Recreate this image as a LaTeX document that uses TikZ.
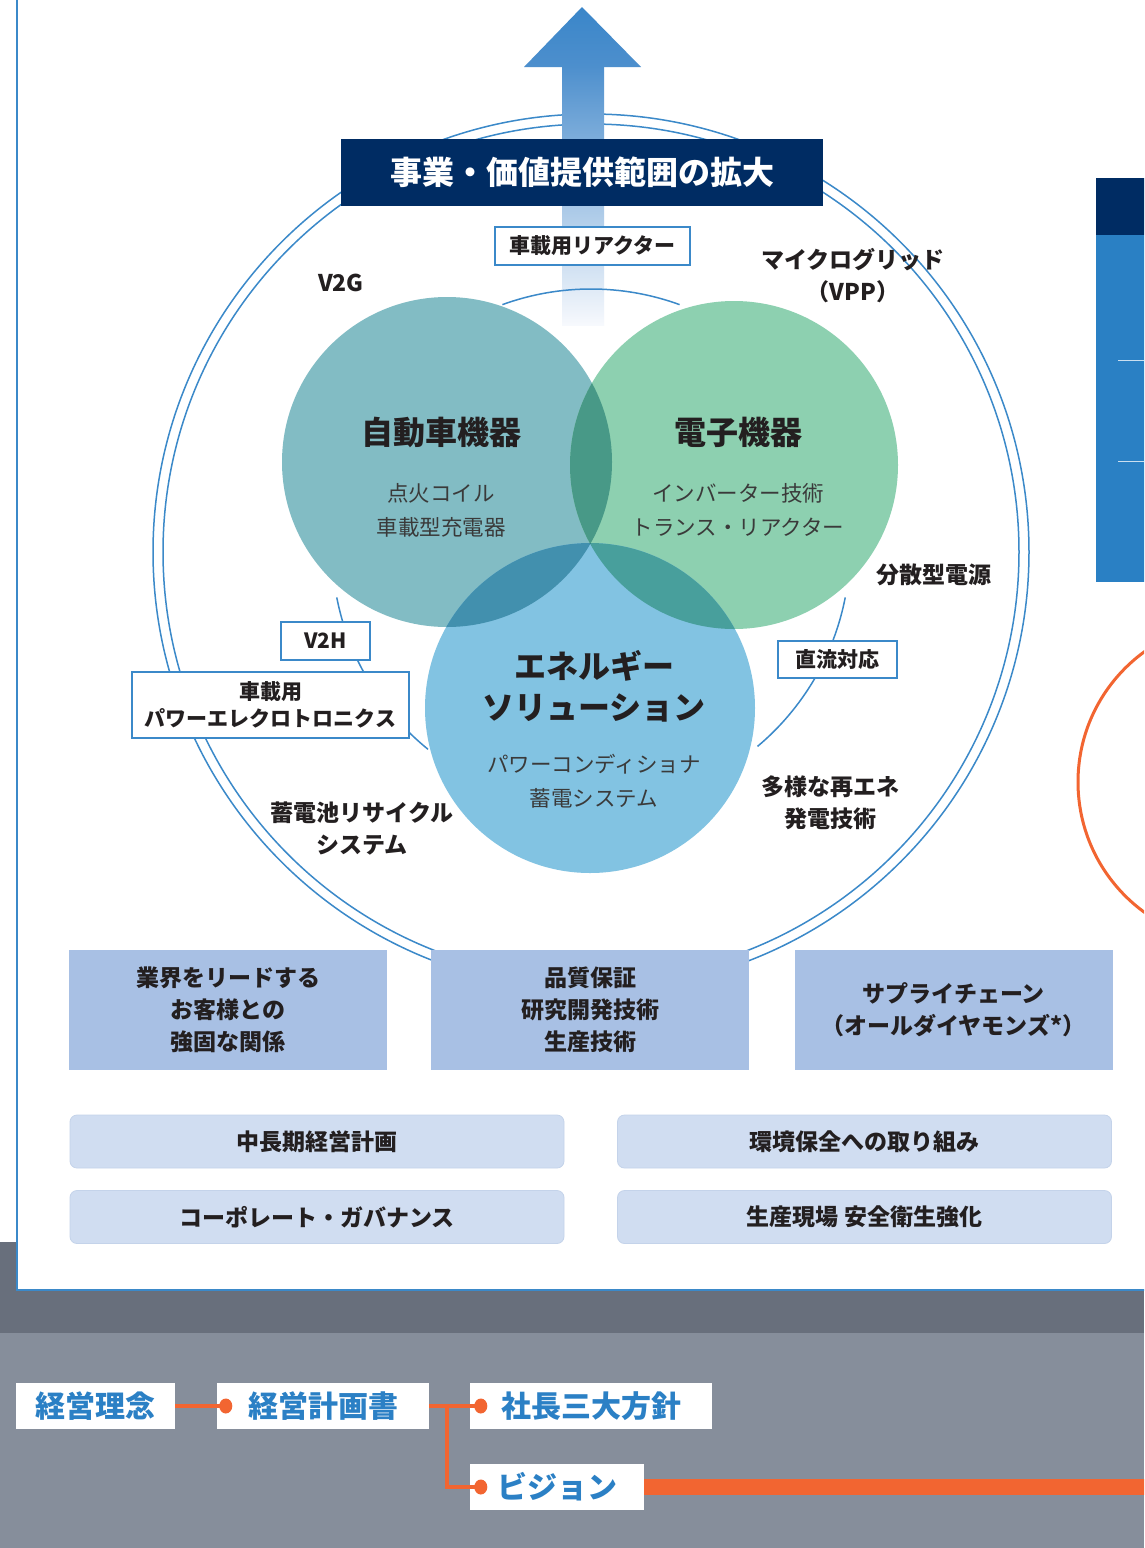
\documentclass[tikz,border=0pt]{standalone}
\usepackage{fontspec}
\setmainfont{Noto Sans CJK JP}
\usetikzlibrary{calc}
\definecolor{navy}{HTML}{002C63}
\definecolor{lblue}{HTML}{3B89C9}
\definecolor{txt}{HTML}{231F20}
\definecolor{subt}{HTML}{3A3A3A}
\definecolor{cteal}{HTML}{82BCC4}
\definecolor{cgreen}{HTML}{8DD0B0}
\definecolor{cblue}{HTML}{82C3E2}
\definecolor{ctg}{HTML}{489987}
\definecolor{ctb}{HTML}{4290AE}
\definecolor{cgb}{HTML}{489F9C}
\definecolor{ctgb}{HTML}{257578}
\definecolor{boxb}{HTML}{A8C0E4}
\definecolor{boxl}{HTML}{D0DDF1}
\definecolor{boxlb}{HTML}{C4D3EA}
\definecolor{gdark}{HTML}{686F7C}
\definecolor{glight}{HTML}{868E9B}
\definecolor{orng}{HTML}{F26531}
\definecolor{flowb}{HTML}{2B80C5}
\definecolor{panelb}{HTML}{2A80C4}
\definecolor{arrtop}{HTML}{3A86C9}
\definecolor{arrmid}{HTML}{4D8FCD}
\definecolor{arrend}{HTML}{F7F9FD}
\tikzset{
  lab/.style={font=\bfseries\fontsize{23}{32}\selectfont, text=txt, align=center, inner sep=0},
  vhead/.style={font=\bfseries\fontsize{32}{41}\selectfont, text=txt, align=center, inner sep=0},
  vsub/.style={font=\fontsize{21.5}{34}\selectfont, text=subt, align=center, inner sep=0},
  tagbox/.style={draw=lblue, line width=2, fill=white, font=\bfseries\fontsize{21}{27}\selectfont, text=txt, inner sep=0, align=center},
  bbox/.style={fill=boxb, font=\bfseries\fontsize{23}{32}\selectfont, text=txt, inner sep=0, align=center, minimum width=318, minimum height=120},
  lbox/.style={fill=boxl, draw=boxlb, line width=0.8, rounded corners=7, font=\bfseries\fontsize{23}{28}\selectfont, text=txt, inner sep=0, minimum width=494, minimum height=53},
  flowbox/.style={fill=white, font=\bfseries\fontsize{30}{34}\selectfont, text=flowb, inner sep=0, minimum height=46},
  ring/.style={draw=lblue, line width=1.5},
  oline/.style={draw=orng, line width=3.5},
}
\begin{document}
\begin{tikzpicture}[x=1pt,y=-1pt]
\useasboundingbox (0,0) rectangle (1144,1548);
\clip (0,0) rectangle (1144,1548);
% backgrounds
\fill[white] (0,0) rectangle (1144,1548);
\fill[gdark] (0,1242) rectangle (1144,1333);
\fill[glight] (0,1333) rectangle (1144,1548);
\fill[white] (17,-5) rectangle (1150,1290);
\draw[lblue, line width=2] (17,-5) -- (17,1290) -- (1150,1290);
% right partial panel
\fill[navy] (1096,178) rectangle (1150,235);
\fill[panelb] (1096,235) rectangle (1150,582);
\draw[white!75!panelb, line width=1] (1118,360) -- (1150,360) (1118,461) -- (1150,461);
\draw[orng, line width=3] (1239,782) circle[radius=161];
% big double circle
\coordinate (c) at (591,552);
\draw[ring] (c) circle[radius=438] (c) circle[radius=428];
% arrow
\shade[top color=arrmid, bottom color=arrend] (562,66) rectangle (604,325);
\shade[top color=arrtop, bottom color=arrmid] (582,7) -- (641,67) -- (524,67) -- cycle;
% title
\node[fill=navy, minimum width=482, minimum height=67, inner sep=0, text=white, font=\bfseries\fontsize{32}{36}\selectfont] (title) at (582,172.5) {事業・価値提供範囲の拡大};
% inner arcs
\coordinate (ic) at (591,548);
\draw[ring] ($(ic)+(-110:259)$) arc[start angle=-110, end angle=-70, radius=259];
\draw[ring] ($(ic)+(169:259)$) arc[start angle=169, end angle=129, radius=259];
\draw[ring] ($(ic)+(11:259)$) arc[start angle=11, end angle=50, radius=259];
% venn circles
\fill[cteal] (447,462) circle[radius=165];
\fill[cgreen] (734,465) circle[radius=164];
\fill[cblue] (590,708) circle[radius=165];
\begin{scope}
  \clip (447,462) circle[radius=165];
  \fill[ctg] (734,465) circle[radius=164];
  \fill[ctb] (590,708) circle[radius=165];
\end{scope}
\begin{scope}
  \clip (734,465) circle[radius=164];
  \fill[cgb] (590,708) circle[radius=165];
\end{scope}
\begin{scope}
  \clip (447,462) circle[radius=165];
  \clip (734,465) circle[radius=164];
  \fill[ctgb] (590,708) circle[radius=165];
\end{scope}
% venn texts
\node[vhead] (auto) at (441,432) {自動車機器};
\node[vsub] (autos) at (441,510) {点火コイル\\車載型充電器};
\node[vhead] (elec) at (738,432) {電子機器};
\node[vsub] (elecs) at (738,510) {インバーター技術\\トランス・リアクター};
\node[vhead] (ene) at (594,686) {エネルギー\\ソリューション};
\node[vsub] (enes) at (594,781) {パワーコンディショナ\\蓄電システム};
% outer labels
\node[tagbox, minimum width=195, minimum height=38] (react) at (592.5,246) {車載用リアクター};
\node[lab] (v2g) at (341,283) {V2G};
\node[lab] (micro) at (853,276) {マイクログリッド\\（VPP）};
\node[lab] (bunsan) at (934,575) {分散型電源};
\node[tagbox, minimum width=119, minimum height=37] (dc) at (837,659.5) {直流対応};
\node[lab] (tayou) at (830,803) {多様な再エネ\\発電技術};
\node[tagbox, minimum width=89, minimum height=38] (v2h) at (325.5,641) {V2H};
\node[tagbox, minimum width=277, minimum height=66] (power) at (270.5,704.5) {車載用\\パワーエレクロトロニクス};
\node[lab] (recycle) at (362,829) {蓄電池リサイクル\\システム};
% bottom boxes
\node[bbox] (b1) at (228,1009.5) {業界をリードする\\お客様との\\強固な関係};
\node[bbox] (b2) at (590,1009.5) {品質保証\\研究開発技術\\生産技術};
\node[bbox] (b3) at (953.5,1009.5) {サプライチェーン\\（オールダイヤモンズ*）};
\node[lbox] (l1) at (317,1141.5) {中長期経営計画};
\node[lbox] (l2) at (864.5,1141.5) {環境保全への取り組み};
\node[lbox] (l3) at (317,1217) {コーポレート・ガバナンス};
\node[lbox] (l4) at (864.5,1217) {生産現場 安全衛生強化};
% flow
\node[flowbox, minimum width=159] (rinen) at (95.5,1406) {経営理念};
\node[flowbox, minimum width=212] (keikaku) at (323,1406) {経営計画書};
\node[flowbox, minimum width=242] (shacho) at (591,1406) {社長三大方針};
\node[flowbox, minimum width=174] (vision) at (557,1487) {ビジョン};
\coordinate (d1) at ($(keikaku.west)+(9,0)$);
\coordinate (d2) at ($(shacho.west)+(11,0)$);
\coordinate (d3) at ($(vision.west)+(11,0)$);
\draw[oline] (rinen.east) -- (d1);
\draw[oline] (keikaku.east) -- (d2);
\draw[oline] ($(keikaku.east)+(18,0)$) |- (d3);
\fill[orng] (d1) ellipse[x radius=6.5, y radius=7.5];
\fill[orng] (d2) ellipse[x radius=6.5, y radius=7.5];
\fill[orng] (d3) ellipse[x radius=6.5, y radius=7.5];
\draw[orng, line width=16] (vision.east) -- (1150,1487);
\end{tikzpicture}
\end{document}
